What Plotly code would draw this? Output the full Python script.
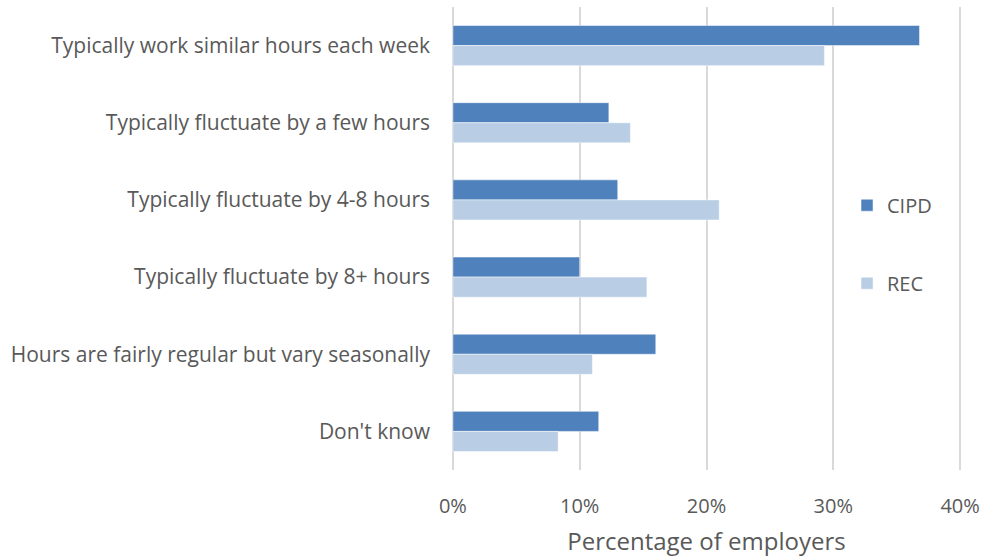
import plotly.graph_objects as go

categories = [
    "Typically work similar hours each week",
    "Typically fluctuate by a few hours",
    "Typically fluctuate by 4-8 hours",
    "Typically fluctuate by 8+ hours",
    "Hours are fairly regular but vary seasonally",
    "Don't know",
]
cipd = [36.8, 12.3, 13.0, 10.0, 16.0, 11.5]
rec = [29.3, 14.0, 21.0, 15.3, 11.0, 8.3]
x_ticks = [0, 10, 20, 30, 40]
x_tick_labels = ["0%", "10%", "20%", "30%", "40%"]

font_family = "Open Sans, Liberation Sans, sans-serif"
text_color = "#595959"

fig = go.Figure()
fig.add_trace(go.Bar(
    y=categories, x=cipd, name="CIPD", orientation="h",
    marker=dict(color="#4F81BD", line=dict(color="#ffffff", width=0.5)),
    legendgroup="a",
))
fig.add_trace(go.Bar(
    y=categories, x=rec, name="REC", orientation="h",
    marker=dict(color="#B9CDE5", line=dict(color="#ffffff", width=0.5)),
    legendgroup="b",
))

fig.update_layout(
    width=987, height=558,
    margin=dict(l=451, r=23, t=7, b=87),
    paper_bgcolor="white", plot_bgcolor="white",
    barmode="group", bargap=0.48, bargroupgap=0,
    font=dict(family=font_family, color=text_color, size=20),
    legend=dict(
        x=0.775, y=0.614, xanchor="left", yanchor="top",
        tracegroupgap=49, font=dict(size=20, color=text_color),
        bgcolor="rgba(0,0,0,0)",
    ),
    xaxis=dict(
        range=[-0.15, 40.15], tickvals=x_ticks, ticktext=x_tick_labels,
        showgrid=True, gridcolor="#D9D9D9", gridwidth=2,
        zeroline=False, showline=False,
        ticks="", ticklabelstandoff=22,
        title=dict(text="Percentage of employers", font=dict(size=24, color=text_color), standoff=15),
        tickfont=dict(size=20, color=text_color),
    ),
    yaxis=dict(
        autorange="reversed", showgrid=False, zeroline=False,
        showline=False, ticks="", ticklabelstandoff=20,
        tickfont=dict(size=21, color=text_color),
    ),
)

fig.write_html("out.html")
